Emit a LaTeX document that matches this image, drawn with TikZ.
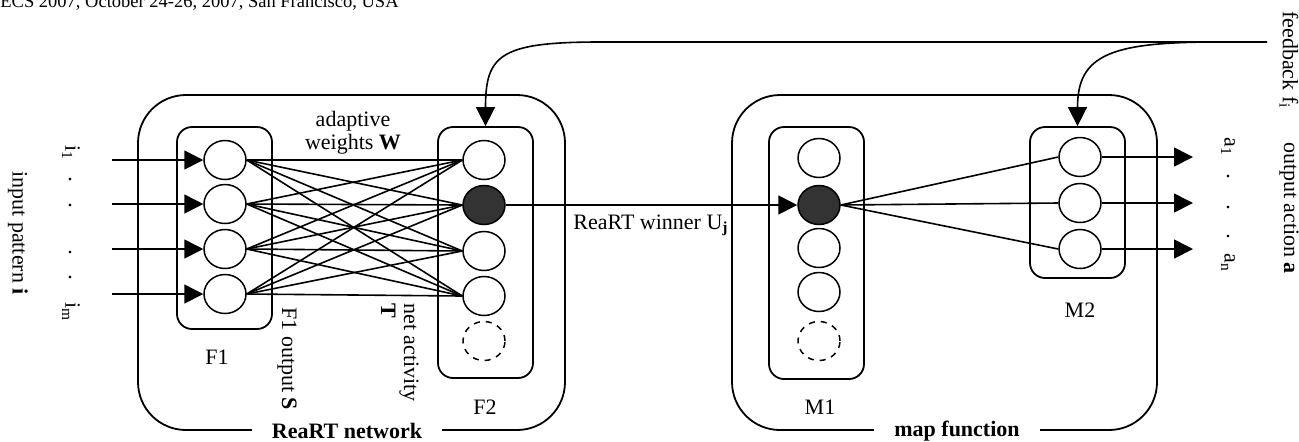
\documentclass[tikz,border=0pt]{standalone}
\usepackage{fontspec}
\setmainfont{Liberation Serif}
\usetikzlibrary{arrows.meta,shapes.geometric}
\begin{document}
\begin{tikzpicture}[x=0.5pt,y=-0.5pt,
  every node/.style={font=\fontsize{11pt}{11.5pt}\selectfont},
  neuron/.style={draw, ellipse, minimum width=21pt, minimum height=19.5pt, inner sep=0pt, line width=0.75pt},
  win/.style={neuron, fill=black!80},
  spare/.style={neuron, dashed},
  layer/.style={draw, rounded corners=7.5pt, line width=0.9pt, minimum width=47.5pt, inner sep=0pt},
  module/.style={draw, rounded corners=24pt, line width=0.9pt, inner sep=0pt, minimum height=167.5pt},
  modlabel/.style={fill=white, inner xsep=10pt, inner ysep=1pt, font=\fontsize{11pt}{12pt}\selectfont\bfseries},
  wire/.style={line width=0.8pt},
  arr/.style={wire, -{Triangle[length=9.5pt,width=9.5pt]}},
  vtext/.style={rotate=-90},
]
\clip (0,0) rectangle (1299,441);

% header (cut off at the top of the picture)
\node[anchor=base west, inner sep=0pt, font=\fontsize{9.25pt}{11pt}\selectfont] (hdr) at (0,7) {ECS 2007, October 24-26, 2007, San Francisco, USA};

% modules
\node[module, minimum width=213.5pt] (rnet) at (351.5,262.5) {};
\node[module, minimum width=212.5pt] (mapf) at (944.5,262.5) {};
\node[modlabel] (rlab) at (347,431) {ReaRT network};
\node[modlabel] (mlab) at (957,431) {map function};

% layers
\node[layer, minimum height=101pt] (F1) at (224.5,228) {};
\node[layer, minimum height=125.5pt] (F2) at (485.5,252.5) {};
\node[layer, minimum height=126pt] (M1) at (816.5,253) {};
\node[layer, minimum height=75.5pt] (M2) at (1077.5,202.5) {};

% neurons
\node[neuron] (f1a) at (225,160) {};
\node[neuron] (f1b) at (225,204) {};
\node[neuron] (f1c) at (225,249) {};
\node[neuron] (f1d) at (225,294) {};

\node[neuron] (f2a) at (484,160) {};
\node[win]    (f2b) at (484,205) {};
\node[neuron] (f2c) at (484,251) {};
\node[neuron] (f2d) at (484,296) {};
\node[spare]  (f2e) at (484,341) {};

\node[neuron] (m1a) at (819,158) {};
\node[win]    (m1b) at (819,205) {};
\node[neuron] (m1c) at (819,248) {};
\node[neuron] (m1d) at (819,292) {};
\node[spare]  (m1e) at (819,341) {};

\node[neuron] (m2a) at (1080,157) {};
\node[neuron] (m2b) at (1080,203) {};
\node[neuron] (m2c) at (1080,249) {};

% inputs
\coordinate (in1) at (112,160);
\coordinate (in2) at (112,204);
\coordinate (in3) at (112,249);
\coordinate (in4) at (112,294);
\draw[arr] (in1) -- (f1a.west);
\draw[arr] (in2) -- (f1b.west);
\draw[arr] (in3) -- (f1c.west);
\draw[arr] (in4) -- (f1d.west);

% adaptive weights
\foreach \a in {f1a,f1b,f1c,f1d}
  \foreach \b in {f2a,f2b,f2c,f2d}
    \draw[wire] (\a.east) -- (\b.west);

% winner
\draw[arr] (f2b.east) -- (m1b.west);
\foreach \b in {m2a,m2b,m2c}
  \draw[wire] (m1b.east) -- (\b.west);

% outputs
\coordinate (o1) at (1193,157);
\coordinate (o2) at (1193,203);
\coordinate (o3) at (1193,249);
\draw[arr] (m2a.east) -- (o1);
\draw[arr] (m2b.east) -- (o2);
\draw[arr] (m2c.east) -- (o3);

% feedback
\coordinate (fbstart) at (1267,42);
\coordinate (fbknee1) at (600,42);
\coordinate (fbknee2) at (1217,42);
\draw[arr] (fbstart) -- (fbknee1) .. controls (500,42) and (485.5,55) .. (F2.north);
\draw[arr] (fbknee2) .. controls (1110,42) and (1077.5,55) .. (M2.north);

% labels
\node[vtext] (inlab) at (18,233) {input pattern \textbf{i}};
\node[vtext] (i1) at (71,153) {i\textsubscript{1}};
\node (id1) at (70,180) {.};
\node (id2) at (70,205) {.};
\node (id3) at (70,252) {.};
\node (id4) at (70,277) {.};
\node[vtext] (im) at (71,312) {i\textsubscript{m}};

\node (F1lab) at (217,357) {F1};
\node (F2lab) at (485,407) {F2};
\node (M1lab) at (820,407) {M1};
\node (M2lab) at (1080,310) {M2};

\node[align=center] (adlab) at (353,133) {adaptive\\weights \textbf{W}};
\node[vtext, anchor=west, inner sep=0pt] (f1out) at (287,307) {F1 output \textbf{S}};
\node[vtext, anchor=west, inner sep=0pt, align=left] (netact) at (400,303) {net activity\\\textbf{T}};
\node (wlab) at (651,225) {ReaRT winner U\textsubscript{\textbf{j}}};

\node[vtext] (fblab) at (1289,60) {feedback f\textsubscript{i}};
\node[vtext] (outlab) at (1289,208) {output action \textbf{a}};
\node[vtext] (a1) at (1228,147) {a\textsubscript{1}};
\node (ad1) at (1228,176) {.};
\node (ad2) at (1228,207) {.};
\node (ad3) at (1228,236) {.};
\node[vtext] (an) at (1228,263) {a\textsubscript{n}};
\end{tikzpicture}
\end{document}
